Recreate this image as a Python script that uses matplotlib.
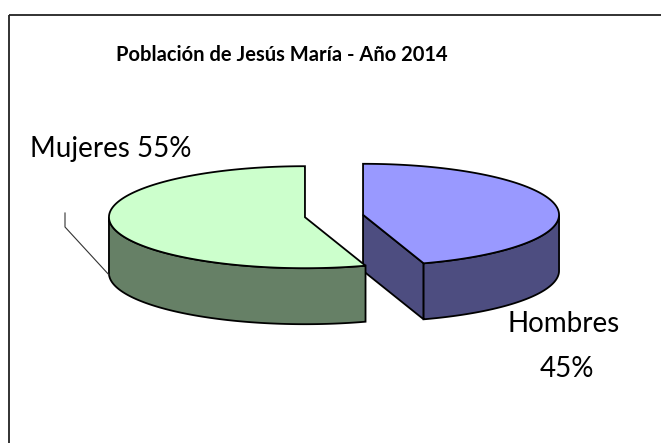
import numpy as np
import matplotlib
matplotlib.use('Agg')
import matplotlib.pyplot as plt
from matplotlib.patches import Polygon, Rectangle
from matplotlib.lines import Line2D

# ---- data ----
categories = ['Mujeres', 'Hombres']
values = [55, 45]
label_texts = ['Mujeres 55%', 'Hombres', '45%']
title = 'Población de Jesús María - Año 2014'
top_colors = ['#CCFFCC', '#9999FF']
side_colors = ['#668066', '#4D4D80']

W, H = 661, 443
plt.rcParams['font.family'] = ['Lato', 'DejaVu Sans']
fig = plt.figure(figsize=(W / 100, H / 100), dpi=100)
ax = fig.add_axes([0, 0, 1, 1])
ax.set_xlim(0, W)
ax.set_ylim(H, 0)
ax.axis('off')

# chart frame (only left & top visible in the crop)
ax.add_patch(Rectangle((9, 15), 800, 600, fill=False, ec='#222222', lw=1.3, zorder=1))

# ---- 3D pie geometry ----
cx, cy = 334, 216
a, b = 196, 51
depth = 56
explode = 0.15

fracs = np.array(values, dtype=float) / sum(values)
starts = np.deg2rad(90) + 2 * np.pi * np.concatenate([[0], np.cumsum(fracs)[:-1]])
ends = starts + 2 * np.pi * fracs


def P(c, t, dz=0.0):
    return (c[0] + a * np.cos(t), c[1] - b * np.sin(t) + dz)


centers = []
for t1, t2 in zip(starts, ends):
    m = (t1 + t2) / 2
    centers.append((cx + explode * a * np.cos(m), cy - explode * b * np.sin(m)))

lw = 1.3
# draw order: Hombres (back-right) first then Mujeres
for i in [1, 0]:
    t1, t2 = starts[i], ends[i]
    c = centers[i]
    # cut faces
    if np.cos(t1) > 1e-6:
        poly = [c, P(c, t1), P(c, t1, depth), (c[0], c[1] + depth)]
        ax.add_patch(Polygon(poly, closed=True, fc=side_colors[i], ec='black', lw=lw, zorder=2))
    if np.cos(t2) < -1e-6:
        poly = [c, P(c, t2), P(c, t2, depth), (c[0], c[1] + depth)]
        ax.add_patch(Polygon(poly, closed=True, fc=side_colors[i], ec='black', lw=lw, zorder=2))
    # outer wall (front-facing part)
    ts = np.linspace(t1, t2, 600)
    ts = ts[np.sin(ts) <= 1e-9]
    if len(ts) > 1:
        topp = [P(c, t) for t in ts]
        botp = [P(c, t, depth) for t in ts[::-1]]
        ax.add_patch(Polygon(topp + botp, closed=True, fc=side_colors[i], ec='black', lw=lw, zorder=2))
    # top face
    ts = np.linspace(t1, t2, 600)
    poly = [c] + [P(c, t) for t in ts]
    ax.add_patch(Polygon(poly, closed=True, fc=top_colors[i], ec='black', lw=lw, zorder=3))

# ---- labels ----
ax.text(282, 61, title, ha='center', va='baseline', fontsize=14.5, fontweight='bold', color='black')
ax.text(30, 157, label_texts[0], ha='left', va='baseline', fontsize=20, color='black')
ax.text(564, 332, label_texts[1], ha='center', va='baseline', fontsize=20, color='black')
ax.text(567, 377, label_texts[2], ha='center', va='baseline', fontsize=20, color='black')

# leader line for Mujeres label
end = P(centers[0], np.deg2rad(182), depth)
ax.add_line(Line2D([65, 65, end[0]], [213, 227, end[1]], color='#333333', lw=0.8, zorder=4))

fig.savefig('out.png', dpi=100)
